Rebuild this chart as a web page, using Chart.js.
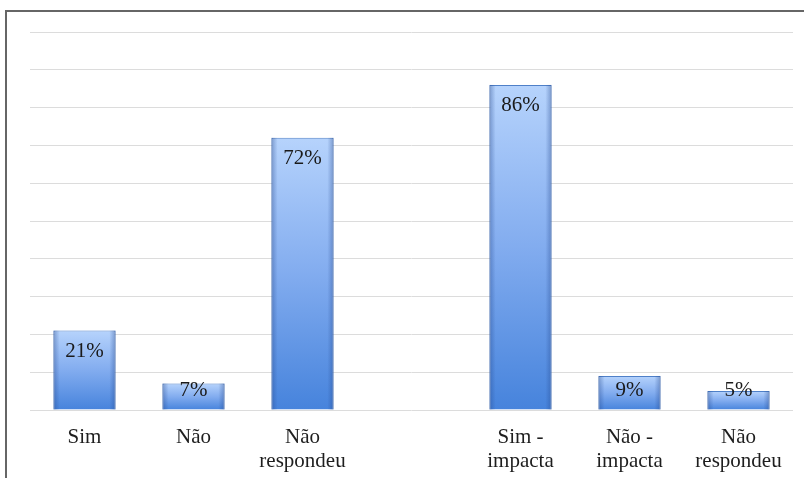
<!DOCTYPE html>
<html>
<head>
<meta charset="utf-8">
<script src="https://cdn.jsdelivr.net/npm/chart.js@4.4.0/dist/chart.umd.min.js"></script>
<style>
  html, body { margin: 0; padding: 0; background: #ffffff; }
  #wrap { position: relative; width: 804px; height: 478px; }
</style>
</head>
<body>
<div id="wrap"><canvas id="c" width="804" height="478"></canvas></div>
<script>
// Categories (the empty slot separates the two question groups)
const categories = [
  'Sim',
  'Não',
  ['Não', 'respondeu'],
  '',
  ['Sim -', 'impacta'],
  ['Não -', 'impacta'],
  ['Não', 'respondeu']
];
// Percent of respondents per answer
const values = [21, 7, 72, null, 86, 9, 5];
// Value axis range and step (percent)
const axisMin = 0;
const axisMax = 100;
const axisStep = 10;

const serif = '"Liberation Serif", "Times New Roman", Times, serif';

// Outer frame around the figure
const framePlugin = {
  id: 'frame',
  beforeDraw(chart) {
    const ctx = chart.ctx;
    ctx.save();
    ctx.strokeStyle = '#666666';
    ctx.lineWidth = 2;
    ctx.beginPath();
    ctx.moveTo(6, chart.height + 2);
    ctx.lineTo(6, 11);
    ctx.lineTo(chart.width + 2, 11);
    ctx.stroke();
    ctx.restore();
  }
};

// Per-bar vertical gradient, from light at the top to deeper blue at the base
function barFill(context) {
  const chart = context.chart;
  const v = context.raw;
  if (!chart.chartArea || v == null) return '#82acef';
  const y = chart.scales.y;
  const top = y.getPixelForValue(v);
  const base = y.getPixelForValue(axisMin);
  if (!isFinite(top) || !isFinite(base) || base - top < 1) return '#82acef';
  const g = chart.ctx.createLinearGradient(0, top, 0, base);
  g.addColorStop(0, '#b6d3fc');
  g.addColorStop(0.5, '#82acef');
  g.addColorStop(1, '#4683dc');
  return g;
}

// Darker shading along the sides of each bar
const barSidePlugin = {
  id: 'barSide',
  afterDatasetDraw(chart, args) {
    const ctx = chart.ctx;
    args.meta.data.forEach(el => {
      if (el.skip || el.y == null || isNaN(el.y)) return;
      const left = el.x - el.width / 2;
      const right = el.x + el.width / 2;
      const g = ctx.createLinearGradient(left, 0, right, 0);
      g.addColorStop(0, 'rgba(35,70,140,0.4)');
      g.addColorStop(0.1, 'rgba(35,70,140,0.0)');
      g.addColorStop(0.9, 'rgba(35,70,140,0.0)');
      g.addColorStop(1, 'rgba(35,70,140,0.4)');
      ctx.save();
      ctx.fillStyle = g;
      ctx.fillRect(left, el.y, el.width, el.base - el.y);
      ctx.restore();
    });
  }
};

// Percent labels drawn inside the top of each bar
const valueLabelPlugin = {
  id: 'valueLabels',
  afterDatasetsDraw(chart) {
    const ctx = chart.ctx;
    const meta = chart.getDatasetMeta(0);
    ctx.save();
    ctx.font = '21px ' + serif;
    ctx.fillStyle = '#1a1a1a';
    ctx.textAlign = 'center';
    ctx.textBaseline = 'middle';
    meta.data.forEach((el, i) => {
      const v = values[i];
      if (v == null) return;
      const y = Math.min(el.y + 21, el.base - 19);
      ctx.fillText(v + '%', el.x, y);
    });
    ctx.restore();
  }
};

new Chart(document.getElementById('c'), {
  type: 'bar',
  data: {
    labels: categories,
    datasets: [{
      data: values,
      backgroundColor: barFill,
      borderColor: '#4f80c8',
      borderWidth: 1,
      categoryPercentage: 1,
      barPercentage: 0.57
    }]
  },
  options: {
    responsive: false,
    animation: false,
    events: [],
    layout: { padding: { left: 30, right: 11, top: 32, bottom: 6 } },
    plugins: {
      legend: { display: false },
      tooltip: { enabled: false },
      title: { display: false }
    },
    scales: {
      x: {
        grid: { display: false, drawTicks: false },
        border: { display: false },
        afterFit(scale) { scale.height = 62; },
        ticks: {
          color: '#1e1e1e',
          font: { family: serif, size: 21, lineHeight: 1.15 },
          padding: 15,
          maxRotation: 0,
          autoSkip: false
        }
      },
      y: {
        min: axisMin,
        max: axisMax,
        ticks: { display: false, stepSize: axisStep },
        grid: { color: '#dcdcdc', lineWidth: 1, drawTicks: false },
        border: { display: false }
      }
    }
  },
  plugins: [framePlugin, barSidePlugin, valueLabelPlugin]
});
</script>
</body>
</html>
